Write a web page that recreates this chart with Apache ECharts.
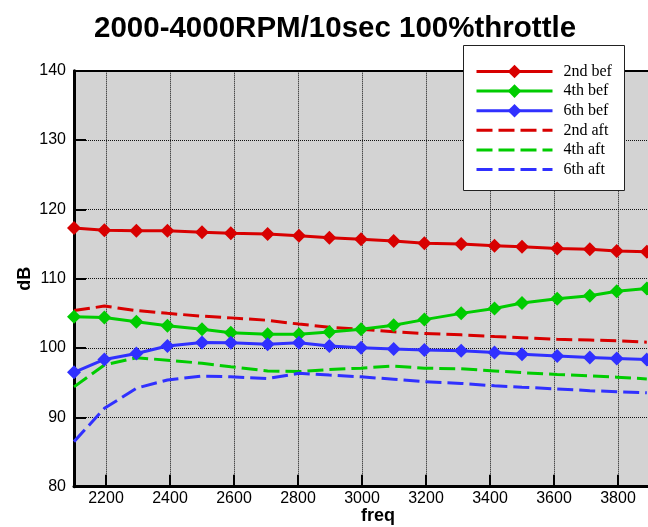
<!DOCTYPE html>
<html>
<head>
<meta charset="utf-8">
<script src="https://cdn.jsdelivr.net/npm/echarts@6/dist/echarts.min.js"></script>
<style>html,body{margin:0;padding:0;background:#fff;}#c{width:648px;height:527px;}</style>
</head>
<body>
<div id="c"></div>
<script>
var freq = [2100, 2195, 2295, 2392, 2500, 2590, 2705, 2803, 2898, 2997, 3099, 3195, 3310, 3414, 3500, 3610, 3712, 3796, 3890];
var bef2 = [117.3, 117.0, 116.9, 116.9, 116.7, 116.55, 116.45, 116.2, 115.9, 115.7, 115.45, 115.1, 115.0, 114.75, 114.6, 114.35, 114.25, 114.0, 113.9];
var bef4 = [104.5, 104.4, 103.8, 103.2, 102.7, 102.2, 102.0, 102.0, 102.3, 102.7, 103.3, 104.1, 105.0, 105.7, 106.5, 107.1, 107.55, 108.2, 108.6];
var bef6 = [96.5, 98.35, 99.2, 100.3, 100.8, 100.75, 100.55, 100.75, 100.3, 100.05, 99.85, 99.7, 99.6, 99.35, 99.1, 98.85, 98.65, 98.5, 98.35];
var aft2 = [105.4, 106.05, 105.4, 105.0, 104.6, 104.35, 104.0, 103.45, 103.0, 102.7, 102.35, 102.1, 101.9, 101.65, 101.5, 101.25, 101.15, 101.05, 100.85];
var aft4 = [94.4, 97.55, 98.6, 98.25, 97.8, 97.3, 96.7, 96.6, 96.9, 97.1, 97.4, 97.1, 97.0, 96.7, 96.45, 96.2, 96.0, 95.8, 95.55];
var aft6 = [86.5, 91.3, 94.2, 95.4, 95.95, 95.85, 95.6, 96.35, 96.1, 95.85, 95.5, 95.15, 94.9, 94.55, 94.35, 94.1, 93.85, 93.7, 93.55];
var names = ['2nd bef', '4th bef', '6th bef', '2nd aft', '4th aft', '6th aft'];
var colors = ['#d80000', '#00cc00', '#3030ff'];

function pairs(ys) { return freq.map(function (f, i) { return [f, ys[i]]; }); }

function solid(name, ys, color) {
  return {
    name: name, type: 'line', data: pairs(ys), z: 5,
    symbol: 'diamond', symbolSize: 14, showSymbol: true,
    lineStyle: { color: color, width: 3, type: 'solid' },
    itemStyle: { color: color },
    emphasis: { disabled: true }, animation: false
  };
}
function dashed(name, ys, color) {
  return {
    name: name, type: 'line', data: pairs(ys), z: 4,
    symbol: 'none', showSymbol: false,
    lineStyle: { color: color, width: 3, type: [16, 6] },
    itemStyle: { color: color },
    emphasis: { disabled: true }, animation: false
  };
}

var chart = echarts.init(document.getElementById('c'), null, { renderer: 'canvas' });
chart.setOption({
  animation: false,
  backgroundColor: '#fff',
  title: {
    text: '2000-4000RPM/10sec 100%throttle',
    left: 89, top: 9,
    textStyle: { fontFamily: 'Liberation Sans', fontWeight: 'bold', fontSize: 29.5, color: '#000' }
  },
  grid: {
    left: 74, top: 70.7, width: 608, height: 416, containLabel: false, outerBoundsMode: 'none',
    show: true, backgroundColor: '#d3d3d3', borderWidth: 0
  },
  graphic: [{
    type: 'rect', z: 50, left: 463, top: 45,
    shape: { width: 161, height: 145 },
    style: { fill: '#fff', stroke: '#222', lineWidth: 1 }
  }],
  legend: {
    z: 60, orient: 'vertical', left: 475, top: 63.5, padding: 0,
    itemWidth: 76, itemHeight: 17, itemGap: 3.6,
    lineStyle: { width: 3 },
    data: [
      { name: names[0] }, { name: names[1] }, { name: names[2] },
      { name: names[3], itemStyle: { opacity: 0 } },
      { name: names[4], itemStyle: { opacity: 0 } },
      { name: names[5], itemStyle: { opacity: 0 } }
    ],
    textStyle: { fontFamily: 'Liberation Serif', fontSize: 16, color: '#000', padding: [0, 0, 0, 6] }
  },
  xAxis: [{
    type: 'value', min: 2100, max: 4000, splitNumber: 10,
    name: 'freq', nameLocation: 'middle', nameGap: 20, nameMoveOverlap: false,
    nameTextStyle: { fontFamily: 'Liberation Sans', fontWeight: 'bold', fontSize: 18, color: '#000' },
    axisLine: { show: true, onZero: false, lineStyle: { color: '#000', width: 3 } },
    axisTick: { show: true, inside: true, length: 12, lineStyle: { color: '#000', width: 2 } },
    axisLabel: {
      showMinLabel: false, margin: 4, fontFamily: 'Liberation Sans', fontSize: 16, color: '#000',
      formatter: function (v) { return String(v); }
    },
    splitLine: { show: true, lineStyle: { color: '#111', width: 1, type: 'dotted' } }
  }, {
    type: 'value', min: 2100, max: 4000, position: 'top',
    axisLine: { show: true, onZero: false, lineStyle: { color: '#000', width: 2 } },
    axisTick: { show: false }, axisLabel: { show: false }, splitLine: { show: false }
  }],
  yAxis: {
    type: 'value', min: 80, max: 140, interval: 10,
    name: 'dB', nameLocation: 'middle', nameGap: 40, nameMoveOverlap: false,
    nameTextStyle: { fontFamily: 'Liberation Sans', fontWeight: 'bold', fontSize: 18, color: '#000' },
    axisLine: { show: true, onZero: false, lineStyle: { color: '#000', width: 3 } },
    axisTick: { show: true, inside: true, length: 12, lineStyle: { color: '#000', width: 2 } },
    axisLabel: { margin: 8, fontFamily: 'Liberation Sans', fontSize: 16, color: '#000' },
    splitLine: { show: true, lineStyle: { color: '#111', width: 1, type: 'dotted' } }
  },
  series: [
    solid(names[0], bef2, colors[0]),
    solid(names[1], bef4, colors[1]),
    solid(names[2], bef6, colors[2]),
    dashed(names[3], aft2, colors[0]),
    dashed(names[4], aft4, colors[1]),
    dashed(names[5], aft6, colors[2])
  ]
});
</script>
</body>
</html>
